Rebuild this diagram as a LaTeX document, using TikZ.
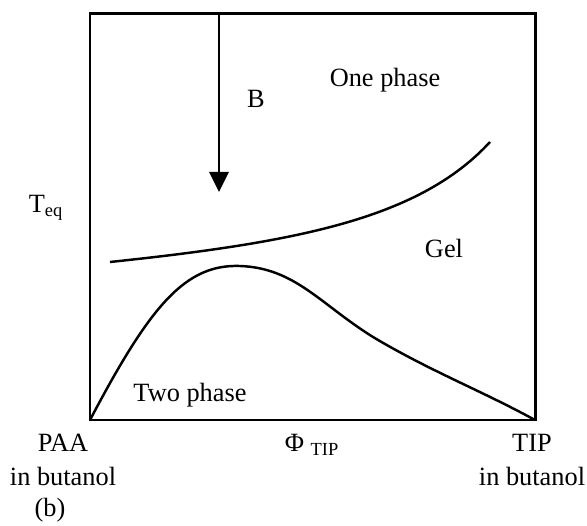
\documentclass[tikz,border=0pt]{standalone}
\usepackage{fontspec}
\setmainfont{Liberation Serif}
\usetikzlibrary{arrows.meta}
\tikzset{lbl/.style={font=\fontsize{15}{19}\selectfont,inner sep=0pt,align=center}}
\begin{document}
\begin{tikzpicture}[x=0.02cm,y=0.02cm]
                \useasboundingbox (0,0) rectangle (587,526);
                \draw[line width=1.7pt] (90,106) rectangle (535,512);
                \coordinate (btop) at (219,512);
                \coordinate (bend) at (219,334);
                \draw[line width=1.6pt,-{Triangle[length=0.4cm,width=0.38cm]}] (btop) -- (bend);
                \draw[line width=1.4pt] (110,264) .. controls (300,284) and (420,308) .. (490,384);
                \draw[line width=1.4pt] (90,106) .. controls (150,220) and (185,262) .. (240,260)
                    .. controls (295,258) and (320,222) .. (373,189)
                    .. controls (430,155) and (480,136) .. (535,106);
                \node[lbl] (blbl) at (256,427) {B};
                \node[lbl] (one) at (385,446) {One phase};
                \node[lbl] (gel) at (444,278) {Gel};
                \node[lbl] (two) at (190,131) {Two phase};
                \node[lbl] (teq) at (46,318) {T\textsubscript{eq}};
                \node[lbl] (phi) at (312,81) {Φ \textsubscript{TIP}};
                \node[lbl] (paa) at (63,66) {PAA\\in butanol};
                \node[lbl] (tip) at (532,66) {TIP\\in butanol};
                \node[lbl] (sub) at (50,16) {(b)};
            \end{tikzpicture}
\end{document}
